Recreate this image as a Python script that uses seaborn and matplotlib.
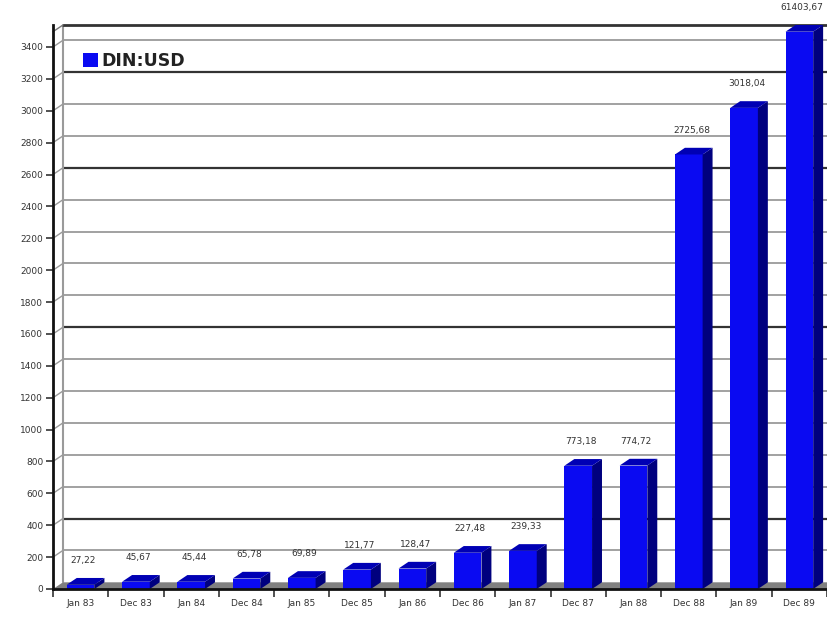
import numpy as np
import pandas as pd
import matplotlib
matplotlib.use("Agg")
import matplotlib.pyplot as plt
from matplotlib.patches import Polygon, Patch
import seaborn as sns

categories = ["Jan 83", "Dec 83", "Jan 84", "Dec 84", "Jan 85", "Dec 85", "Jan 86",
              "Dec 86", "Jan 87", "Dec 87", "Jan 88", "Dec 88", "Jan 89", "Dec 89"]
values = [27.22, 45.67, 45.44, 65.78, 69.89, 121.77, 128.47,
          227.48, 239.33, 773.18, 774.72, 2725.68, 3018.04, 61403.67]
value_labels = ["27,22", "45,67", "45,44", "65,78", "69,89", "121,77", "128,47",
                "227,48", "239,33", "773,18", "774,72", "2725,68", "3018,04", "61403,67"]
yticks = list(range(0, 3401, 200))
series_name = "DIN:USD"

sns.set_theme(style="white")
plt.rcParams['font.family'] = ['DejaVu Sans']

W, H = 827, 619
fig = plt.figure(figsize=(W / 100, H / 100), dpi=100)
ax = fig.add_axes([53 / W, (H - 589) / H, (W - 53) / W, (589 - 25) / H])

ytop = 3538
dx = 0.18   # depth offset in category units
dy = 42     # depth offset in data units
ax.set_xlim(-0.5, 13.5)
ax.set_ylim(0, ytop)

cap = ytop - dy
df = pd.DataFrame({"cat": categories, "shown": np.minimum(values, cap)})

front = "#0a0af2"
side = "#00007e"
topc = "#0000b4"

# back wall / grid
dark = {400, 1600, 2600, 3200}
for v in yticks:
    if v == 0:
        continue
    col = "#333333" if v in dark else "#9a9a9a"
    lw = 1.6 if v in dark else 1.3
    ax.plot([-0.5 + dx, 13.5], [v + dy, v + dy], color=col, lw=lw, zorder=1, clip_on=True)
    ax.plot([-0.5, -0.5 + dx], [v, v + dy], color="#9a9a9a", lw=1.0, zorder=1, clip_on=False)
ax.plot([-0.5 + dx, -0.5 + dx], [dy, ytop], color="#9a9a9a", lw=1.5, zorder=1)
ax.plot([-0.5 + dx, 13.5], [ytop, ytop], color="#333333", lw=2.0, zorder=1, clip_on=False)
ax.plot([-0.5, -0.5 + dx], [ytop - dy, ytop], color="#777777", lw=1.0, zorder=1, clip_on=False)

# floor
ax.add_patch(Polygon([(-0.5, 0), (13.5, 0), (13.5 + dx, dy), (-0.5 + dx, dy)],
                     closed=True, facecolor="#808080", edgecolor="none", zorder=2))

sns.barplot(data=df, x="cat", y="shown", color=front, width=0.5, saturation=1,
            ax=ax, zorder=3, linewidth=0)

bars = [pp for pp in ax.patches if pp.get_zorder() == 3]
for p, lab in zip(bars, value_labels):
    x0 = p.get_x()
    w = p.get_width()
    h = p.get_height()
    ax.add_patch(Polygon([(x0 + w, 0), (x0 + w + dx, dy), (x0 + w + dx, h + dy), (x0 + w, h)],
                         closed=True, facecolor=side, edgecolor="none", zorder=3))
    ax.add_patch(Polygon([(x0, h), (x0 + dx, h + dy), (x0 + w + dx, h + dy), (x0 + w, h)],
                         closed=True, facecolor=topc, edgecolor="none", zorder=3))
    ax.text(x0 + w / 2 + 0.05, h + 150, lab, ha="center", va="center",
            fontsize=6.5, color="#333333", clip_on=False, zorder=5)

# axes styling
for s in ["top", "right"]:
    ax.spines[s].set_visible(False)
ax.spines["left"].set_color("#111111")
ax.spines["left"].set_linewidth(2.0)
ax.spines["bottom"].set_color("#111111")
ax.spines["bottom"].set_linewidth(2.0)
ax.spines["left"].set_zorder(6)
ax.spines["bottom"].set_zorder(6)

ax.set_yticks(yticks)
ax.set_yticklabels([str(v) for v in yticks])
ax.tick_params(axis="y", direction="out", length=5, width=1.2, color="#333333",
               labelsize=6.5, labelcolor="#333333", pad=2, left=True)
ax.set_xticks(range(len(categories)))
ax.set_xticklabels(categories)
ax.tick_params(axis="x", which="major", length=0, labelsize=6.5, labelcolor="#333333", pad=7)
ax.set_xticks(np.arange(-0.5, 14, 1.0), minor=True)
ax.tick_params(axis="x", which="minor", direction="out", length=6, width=1.2,
               color="#333333", bottom=True)
ax.set_xlabel("")
ax.set_ylabel("")

leg = ax.legend(handles=[Patch(facecolor=front, edgecolor="none", label=series_name)],
                loc="upper left", bbox_to_anchor=(0.03, 0.965), frameon=False,
                prop={"size": 12.5, "weight": "bold"},
                handlelength=0.85, handleheight=0.85, handletextpad=0.2,
                borderaxespad=0)
for t in leg.get_texts():
    t.set_color("#222222")
leg.set_zorder(7)

fig.savefig("out.png", dpi=100)
